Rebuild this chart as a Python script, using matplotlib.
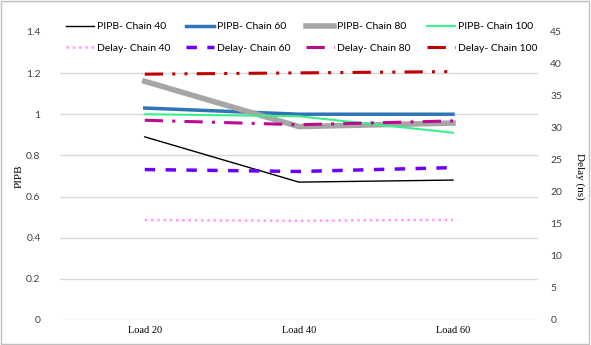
import matplotlib.pyplot as plt
from matplotlib.patches import Rectangle

loads = ['Load 20', 'Load 40', 'Load 60']

pipb_40 = [0.89, 0.67, 0.68]
pipb_60 = [1.03, 1.00, 1.00]
pipb_80 = [1.16, 0.94, 0.957]
pipb_100 = [1.00, 0.99, 0.91]

delay_40 = [15.6, 15.5, 15.65]
delay_60 = [23.5, 23.2, 23.8]
delay_80 = [31.2, 30.5, 31.1]
delay_100 = [38.4, 38.6, 38.8]

sans = ['Lato', 'DejaVu Sans']
serif = 'Liberation Serif'

fig = plt.figure(figsize=(5.91, 3.45), dpi=100)
fig.patches.append(Rectangle((0.002, 0.003), 0.995, 0.993, transform=fig.transFigure,
                             fill=False, edgecolor='#BFBFBF', linewidth=1))

ax = fig.add_axes([0.1015, 0.0725, 0.8085, 0.835])
ax2 = ax.twinx()

x = range(len(loads))
h1, = ax.plot(x, pipb_40, color='black', lw=1.0, label='PIPB- Chain 40')
h2, = ax.plot(x, pipb_60, color='#2E75B6', lw=2.5, label='PIPB- Chain 60')
h3, = ax.plot(x, pipb_80, color='#A6A6A6', lw=4.0, label='PIPB- Chain 80')
h4, = ax.plot(x, pipb_100, color='#3CF08C', lw=1.5, label='PIPB- Chain 100')

d1, = ax2.plot(x, delay_40, color='#FF99FF', lw=1.8, ls=(0, (1, 1.5)), label='Delay- Chain 40')
d2, = ax2.plot(x, delay_60, color='#6A00FF', lw=2.5, ls=(0, (3, 3)), label='Delay- Chain 60')
d3, = ax2.plot(x, delay_80, color='#BB0C8E', lw=2.2, ls=(0, (6, 3, 1, 3)), label='Delay- Chain 80')
d4, = ax2.plot(x, delay_100, color='#C00000', lw=2.2, ls=(0, (6, 3, 1, 3, 1, 3)), label='Delay- Chain 100')

ax.set_xlim(-0.55, 2.55)
ax.set_ylim(0, 1.4)
ax.set_yticks([0, 0.2, 0.4, 0.6, 0.8, 1.0, 1.2, 1.4])
ax.set_yticklabels(['0', '0.2', '0.4', '0.6', '0.8', '1', '1.2', '1.4'])
ax2.set_ylim(0, 45)
ax2.set_yticks(range(0, 50, 5))

ax.yaxis.grid(True, color='#D9D9D9', lw=1)
ax.get_ygridlines()[-1].set_visible(False)
ax.set_axisbelow(True)
for a in (ax, ax2):
    for s in a.spines.values():
        s.set_visible(False)
    a.tick_params(length=0, labelsize=7.5, colors='#404040')
    for t in a.get_yticklabels():
        t.set_family(sans)

ax.tick_params(axis='y', pad=14)
ax2.tick_params(axis='y', pad=9)
ax.set_xticks(list(x))
ax.set_xticklabels(loads, family=serif, fontsize=7.5, color='black')
ax.tick_params(axis='x', pad=4)

ax.set_ylabel('PIPB', family=serif, fontsize=8, labelpad=2)
ax2.set_ylabel('Delay (ns)', family=serif, fontsize=8, rotation=270, labelpad=16)

handles = [h1, d1, h2, d2, h3, d3, h4, d4]
leg = fig.legend(handles=handles, loc='upper left', ncol=4, bbox_to_anchor=(0.095, 0.963),
                 frameon=False, prop={'family': sans, 'size': 7.5}, handlelength=2.7,
                 columnspacing=1.5, handletextpad=0.3, labelspacing=1.15)

fig.savefig('out.png', dpi=100)
